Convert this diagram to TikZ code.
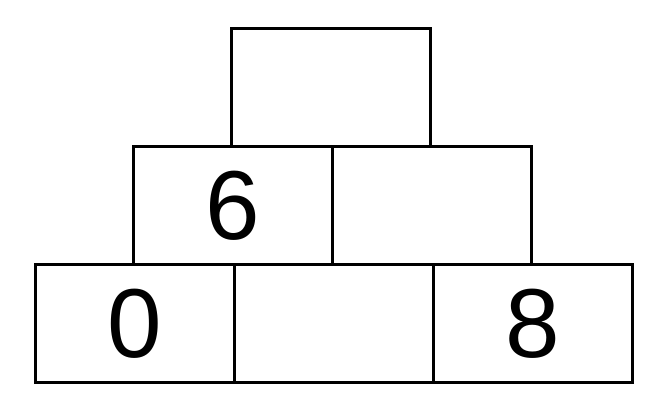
\documentclass[tikz,border=0pt]{standalone}
\usepackage{fontspec}
\setmainfont{Liberation Sans}
\usepackage{tikz}

\begin{document}
\begin{tikzpicture}[x=0.75pt,y=-0.75pt,
	brick/.style={rectangle,draw=black,line width=2.25pt,inner sep=0mm,
		minimum width=149.25pt,minimum height=88.5pt,font=\fontsize{73.5}{80}\selectfont}]
	\useasboundingbox (0,0) rectangle (668,413);
	\node (L1) at (134.5,323.5) [brick] {0};
	\node (L2) at (333.5,323.5) [brick] {};
	\node (L3) at (532.5,323.5) [brick] {8};
	\node (M1) at (233,206) [brick] {6};
	\node (M2) at (432,206) [brick] {};
	\node (T)  at (331,88) [brick] {};
\end{tikzpicture}
\end{document}
